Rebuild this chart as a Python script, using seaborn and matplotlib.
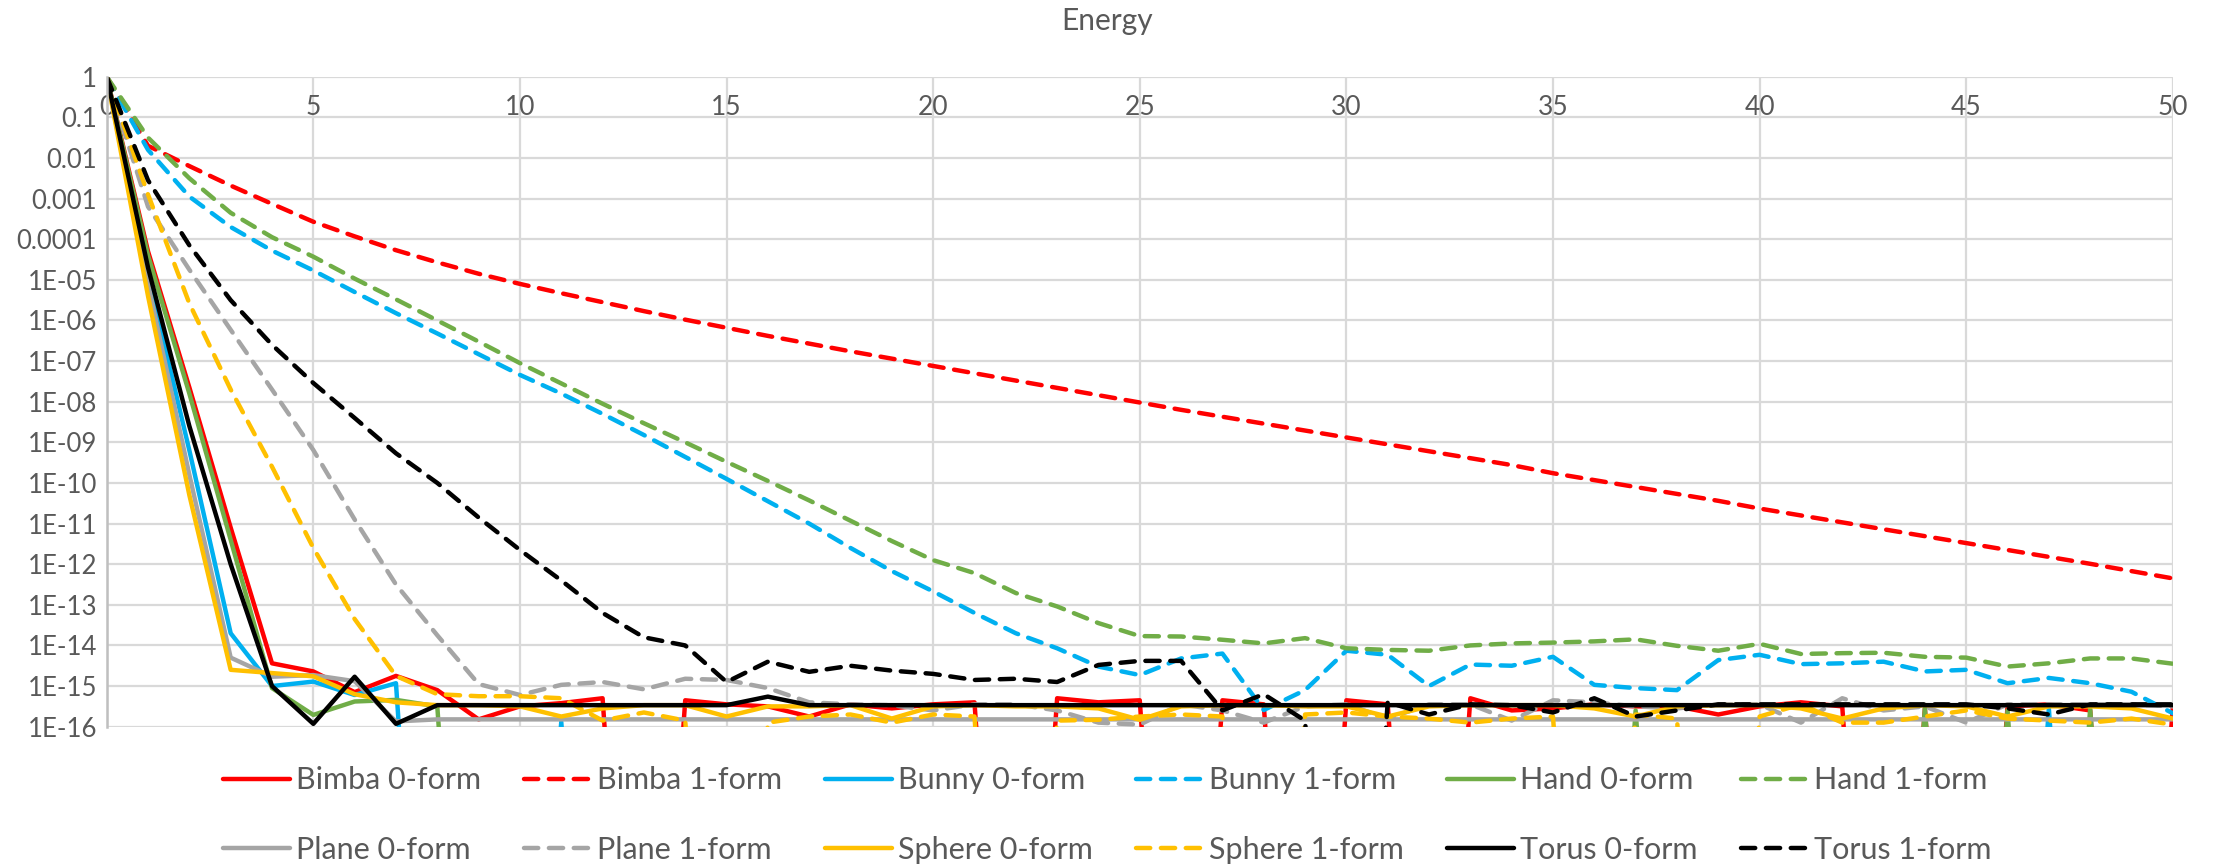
import numpy as np
import pandas as pd
import matplotlib
matplotlib.use("Agg")
import matplotlib.pyplot as plt
import seaborn as sns

# Energy per iteration as log10 values.
# OFF marks points that fall below the 1E-16 floor of the axis.
OFF = -30

iters = list(range(51))

bimba0 = [0, -4.3, -7.65, -11.1, -14.44, -14.64, -15.15, -14.75, -15.1, -15.82,
          -15.5, -15.42, -15.3, OFF, -15.35, -15.45, -15.5, -15.75, -15.45, -15.55,
          -15.45, -15.4, OFF, -15.3, -15.4, -15.35, OFF, -15.35, -15.45, OFF,
          -15.35, -15.45, OFF, -15.3, -15.6, -15.55, -15.45, -15.5, -15.5, -15.7,
          -15.5, -15.4, -15.5, OFF, -15.55, OFF, -15.5, -15.45, -15.6, OFF, -15.5]
bimba1 = [0, -1.7, -2.2, -2.68, -3.13, -3.57, -3.93, -4.27, -4.57, -4.85,
          -5.1, -5.33, -5.55, -5.77, -5.98, -6.18, -6.38, -6.57, -6.76, -6.94,
          -7.12, -7.3, -7.48, -7.66, -7.84, -8.02, -8.2, -8.37, -8.54, -8.71,
          -8.88, -9.05, -9.22, -9.39, -9.56, -9.76, -9.93, -10.1, -10.27, -10.44,
          -10.63, -10.8, -10.97, -11.14, -11.31, -11.48, -11.65, -11.82, -11.99, -12.17, -12.35]
bunny0 = [0, -4.9, -9.2, -13.7, -15.0, -14.89, -15.22, -14.93, OFF, OFF,
          OFF, -15.88, OFF, OFF, OFF, OFF, OFF, OFF, OFF, OFF,
          OFF, OFF, OFF, OFF, OFF, OFF, OFF, OFF, OFF, OFF,
          OFF, OFF, OFF, OFF, OFF, OFF, OFF, OFF, OFF, OFF,
          OFF, OFF, OFF, OFF, OFF, OFF, OFF, -15.55, OFF, OFF, OFF]
bunny1 = [0, -1.8, -2.95, -3.7, -4.28, -4.77, -5.3, -5.82, -6.32, -6.83,
          -7.34, -7.8, -8.3, -8.82, -9.36, -9.9, -10.45, -11.0, -11.6, -12.17,
          -12.67, -13.2, -13.7, -14.07, -14.52, -14.73, -14.32, -14.2, -15.59, -15.1,
          -14.13, -14.23, -15.0, -14.47, -14.5, -14.28, -14.97, -15.05, -15.1, -14.36,
          -14.23, -14.46, -14.44, -14.4, -14.64, -14.6, -14.93, -14.8, -14.93, -15.14, -15.67]
hand0 = [0, -4.4, -7.8, -11.4, -15.05, -15.71, -15.38, -15.34, -15.5, OFF,
         OFF, OFF, OFF, OFF, OFF, OFF, OFF, OFF, OFF, OFF,
         OFF, OFF, OFF, OFF, OFF, OFF, OFF, OFF, OFF, OFF,
         OFF, OFF, OFF, OFF, OFF, OFF, OFF, -15.6, OFF, OFF,
         OFF, OFF, OFF, OFF, -15.55, OFF, -15.6, OFF, -15.55, OFF, OFF]
hand1 = [0, -1.5, -2.5, -3.35, -3.95, -4.43, -4.97, -5.48, -6.0, -6.52,
         -7.05, -7.55, -8.05, -8.53, -9.0, -9.48, -9.95, -10.43, -10.93, -11.43,
         -11.9, -12.22, -12.71, -13.04, -13.45, -13.77, -13.78, -13.86, -13.95, -13.82,
         -14.07, -14.11, -14.13, -14.0, -13.95, -13.93, -13.9, -13.85, -14.01, -14.13,
         -13.96, -14.21, -14.19, -14.18, -14.28, -14.3, -14.52, -14.44, -14.32, -14.32, -14.45]
plane0 = [0, -5.1, -9.8, -14.3, -14.77, -14.73, -14.88, -15.87, -15.82, -15.82,
          -15.82, -15.82, -15.82, -15.82, -15.82, -15.82, -15.82, -15.82, -15.82, -15.82,
          -15.82, -15.82, -15.82, -15.82, -15.82, -15.82, -15.82, -15.82, -15.82, -15.82,
          -15.82, -15.82, -15.82, -15.82, -15.82, -15.82, -15.82, -15.82, -15.82, -15.82,
          -15.82, -15.82, -15.82, -15.82, -15.82, -15.82, -15.82, -15.82, -15.82, -15.82, -15.82]
plane1 = [0, -3.2, -4.75, -6.23, -7.7, -9.19, -10.9, -12.5, -13.75, -14.95,
          -15.22, -14.97, -14.9, -15.08, -14.82, -14.85, -15.05, -15.4, -15.45, -15.47,
          -15.6, -15.45, -15.45, -15.6, -15.9, -15.95, -15.45, -15.6, -15.9, -15.5,
          -15.45, -15.8, -15.45, -15.45, -15.85, -15.35, -15.4, -15.5, -15.55, -15.45,
          -15.45, -15.9, -15.3, -15.6, -15.5, -15.9, -15.45, -15.45, -15.45, -15.45, -15.5]
sphere0 = [0, -5.4, -10.3, -14.6, -14.68, -14.76, -15.2, -15.4, -15.47, -15.47,
           -15.5, -15.75, -15.55, -15.47, -15.47, -15.75, -15.5, -15.5, -15.47, -15.8,
           -15.5, -15.47, -15.5, -15.5, -15.55, -15.83, -15.5, -15.47, -15.47, -15.5,
           -15.5, -15.75, -15.5, -15.47, -15.47, -15.47, -15.55, -15.75, -15.5, -15.47,
           -15.47, -15.55, -15.8, -15.55, -15.47, -15.5, -15.75, -15.5, -15.5, -15.55, -15.8]
sphere1 = [0, -2.9, -5.58, -7.7, -9.6, -11.6, -13.35, -14.75, -15.2, -15.25,
           -15.25, -15.3, -15.85, -15.65, -15.85, OFF, -15.9, -15.75, -15.7, -15.9,
           -15.7, -15.75, OFF, -15.85, -15.83, -15.75, -15.7, -15.75, OFF, -15.7,
           -15.65, -15.75, -15.8, -15.9, -15.8, -15.75, OFF, -15.7, -15.8, OFF,
           -15.75, -15.45, -15.9, -15.9, -15.75, -15.6, -15.8, -15.85, -15.9, -15.8, -15.95]
torus0 = [0, -4.7, -8.6, -12.0, -15.0, -15.93, -14.77, -15.93, -15.47, -15.47,
          -15.47, -15.47, -15.47, -15.47, -15.47, -15.47, -15.26, -15.47, -15.47, -15.47,
          -15.47, -15.47, -15.47, -15.47, -15.47, -15.47, -15.47, -15.47, -15.47, -15.47,
          -15.47, -15.47, -15.47, -15.47, -15.47, -15.47, -15.47, -15.47, -15.47, -15.47,
          -15.47, -15.47, -15.47, -15.47, -15.47, -15.47, -15.47, -15.47, -15.47, -15.47, -15.47]
torus1 = [0, -2.55, -4.15, -5.5, -6.6, -7.54, -8.4, -9.27, -10.0, -10.85,
          -11.65, -12.4, -13.2, -13.8, -14.0, -14.9, -14.4, -14.65, -14.5, -14.62,
          -14.7, -14.85, -14.82, -14.9, -14.48, -14.38, -14.38, -15.6, -15.2, -15.85,
          OFF, -15.4, -15.7, -15.45, -15.47, -15.65, -15.3, -15.75, -15.6, -15.45,
          -15.45, -15.45, -15.45, -15.45, -15.45, -15.45, -15.55, -15.7, -15.45, -15.45, -15.45]

series = {
    "Bimba 0-form": bimba0, "Bimba 1-form": bimba1,
    "Bunny 0-form": bunny0, "Bunny 1-form": bunny1,
    "Hand 0-form": hand0, "Hand 1-form": hand1,
    "Plane 0-form": plane0, "Plane 1-form": plane1,
    "Sphere 0-form": sphere0, "Sphere 1-form": sphere1,
    "Torus 0-form": torus0, "Torus 1-form": torus1,
}
names = list(series.keys())

colors = {"Bimba": "#FF0000", "Bunny": "#00B0F0", "Hand": "#70AD47",
          "Plane": "#A5A5A5", "Sphere": "#FFC000", "Torus": "#000000"}
palette = {n: colors[n.split()[0]] for n in names}
dashes = {n: ("" if "0-form" in n else (3.2, 2.4)) for n in names}

ytick_labels = ["1", "0.1", "0.01", "0.001", "0.0001", "1E-05", "1E-06", "1E-07", "1E-08",
                "1E-09", "1E-10", "1E-11", "1E-12", "1E-13", "1E-14", "1E-15", "1E-16"]
xticks = [0, 5, 10, 15, 20, 25, 30, 35, 40, 45, 50]

# long form table for seaborn
rows = []
for name in names:
    for x, v in zip(iters, series[name]):
        rows.append((x, 10.0 ** v, name))
df = pd.DataFrame(rows, columns=["iteration", "energy", "series"])

sns.set_theme(style="white")
plt.rcParams["font.family"] = ["Lato", "DejaVu Sans"]
text_color = "#595959"
grid_color = "#D9D9D9"

fig = plt.figure(figsize=(22.14, 8.65), dpi=100)
ax = fig.add_axes([0.0482, 0.1599, 0.9332, 0.7514])

sns.lineplot(data=df, x="iteration", y="energy", hue="series", style="series",
             hue_order=names, style_order=names, palette=palette, dashes=dashes,
             estimator=None, sort=False, linewidth=3.2, ax=ax,
             dash_capstyle="round", solid_capstyle="round", solid_joinstyle="round")

ax.set_yscale("log")
ax.set_xlim(0, 50)
ax.set_ylim(1e-16, 1)
ax.set_yticks([10.0 ** -k for k in range(17)])
ax.set_yticklabels(ytick_labels)
ax.minorticks_off()
ax.set_xticks(xticks)
ax.set_xticklabels([str(t) for t in xticks])
ax.grid(True, color=grid_color, linewidth=1.6)
ax.set_axisbelow(True)
for side in ["top", "right", "bottom"]:
    ax.spines[side].set_visible(False)
ax.spines["left"].set_color("#BFBFBF")
ax.spines["left"].set_linewidth(1.8)
ax.set_xlabel("")
ax.set_ylabel("")

# x labels sit inside the plot just under the top gridline
ax.tick_params(axis="x", bottom=False, labelbottom=False, top=False, labeltop=True,
               length=0, pad=-22, labelsize=19, labelcolor=text_color)
ax.tick_params(axis="y", left=False, length=0, pad=7, labelsize=18.5, labelcolor=text_color)
for t in ax.xaxis.get_major_ticks():
    t.label2.set_verticalalignment("center")

fig.text(0.5, 1 - 21 / 865, "Energy", ha="center", va="center", fontsize=21.5, color=text_color)

# legend: two rows, filled row by row
handles, labels = ax.get_legend_handles_labels()
ax.get_legend().remove()
order = []
for c in range(6):
    order += [c, c + 6]
fig.legend([handles[i] for i in order], [labels[i] for i in order],
           loc="center", bbox_to_anchor=(0.5, 1 - 815 / 865), ncol=6, frameon=False,
           fontsize=22, labelcolor=text_color, handlelength=2.2, handletextpad=0.2,
           columnspacing=1.4, labelspacing=1.35)

fig.savefig("out.png", dpi=100)
